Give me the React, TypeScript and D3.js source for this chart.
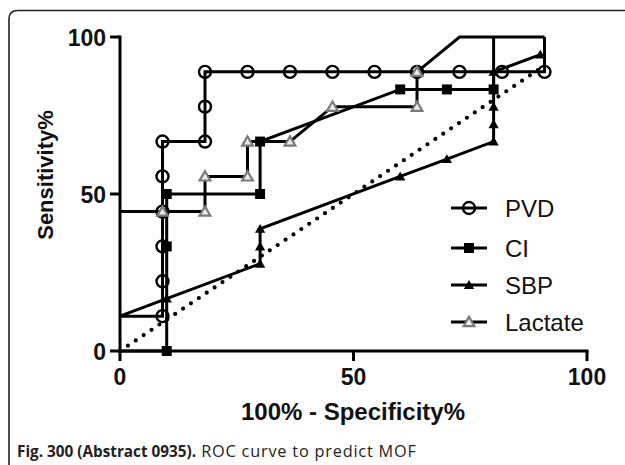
import React from "react";
import * as d3 from "d3";

const X_TICKS = [0, 50, 100];
const Y_TICKS = [0, 50, 100];

const PVD_X = [0, 9.1, 9.1, 9.1, 9.1, 9.1, 9.1, 18.2, 18.2, 18.2, 27.3, 36.4, 45.5, 54.5, 63.6, 72.7, 81.8, 90.9, 90.9];
const PVD_Y = [11.1, 11.1, 22.2, 33.3, 44.4, 55.6, 66.7, 66.7, 77.8, 88.9, 88.9, 88.9, 88.9, 88.9, 88.9, 88.9, 88.9, 88.9, 100];

const CI_X = [0, 10, 10, 10, 30, 30, 60, 70, 80, 80];
const CI_Y = [0, 0, 33.3, 50, 50, 66.7, 83.3, 83.3, 83.3, 100];

const SBP_X = [0, 10, 30, 30, 30, 60, 70, 80, 80, 80, 80, 90];
const SBP_Y = [11.1, 16.7, 27.8, 33.3, 38.9, 55.6, 61.1, 66.7, 72.2, 77.8, 88.9, 94.4];

const LAC_X = [0, 9.1, 18.2, 18.2, 27.3, 27.3, 36.4, 45.5, 63.6, 63.6, 72.7, 90.9];
const LAC_Y = [44.4, 44.4, 44.4, 55.6, 55.6, 66.7, 66.7, 77.8, 77.8, 88.9, 100, 100];

const REF_X = [0, 90];
const REF_Y = [0, 90];

const SERIES_NAMES = ["PVD", "CI", "SBP", "Lactate"];

const X_TITLE = "100% - Specificity%";
const Y_TITLE = "Sensitivity%";
const CAPTION_BOLD = "Fig. 300 (Abstract 0935).";
const CAPTION_REST = " ROC curve to predict MOF";

const W = 625;
const H = 465;
const FONT = "Arial, 'Liberation Sans', Helvetica, sans-serif";

type Marker = "circle" | "square" | "triangle" | "triangleOpen";

export default function App() {
  const x = d3.scaleLinear().domain([0, 100]).range([120, 587]);
  const y = d3.scaleLinear().domain([0, 100]).range([351, 37]);

  const series = [
    { name: SERIES_NAMES[0], xs: PVD_X, ys: PVD_Y, marker: "circle" as Marker },
    { name: SERIES_NAMES[1], xs: CI_X, ys: CI_Y, marker: "square" as Marker },
    { name: SERIES_NAMES[2], xs: SBP_X, ys: SBP_Y, marker: "triangle" as Marker },
    { name: SERIES_NAMES[3], xs: LAC_X, ys: LAC_Y, marker: "triangleOpen" as Marker },
  ];

  const line = d3
    .line<[number, number]>()
    .x((d) => x(d[0]))
    .y((d) => y(d[1]));

  const sym = (m: Marker) => {
    if (m === "square") return d3.symbol().type(d3.symbolSquare).size(100)()!;
    if (m === "triangle") return d3.symbol().type(d3.symbolTriangle).size(46)()!;
    return d3.symbol().type(d3.symbolTriangle).size(50)()!;
  };

  const drawMarker = (m: Marker, cx: number, cy: number, key: string) => {
    if (m === "circle")
      return <circle key={key} cx={cx} cy={cy} r={6} fill="none" stroke="#000" strokeWidth={2.4} />;
    const p = sym(m);
    if (m === "triangleOpen")
      return (
        <path key={key} d={p} transform={`translate(${cx},${cy + 1})`} fill="#ececec" stroke="#7a7a7a" strokeWidth={2.2} />
      );
    return <path key={key} d={p} transform={`translate(${cx},${cy + (m === "triangle" ? 1 : 0)})`} fill="#000" />;
  };

  const refPts: [number, number][] = REF_X.map((v, i) => [v, REF_Y[i]]);

  const legendRows = [208, 248, 285, 322];

  return (
    <svg
      width={W}
      height={H}
      viewBox={`0 0 ${W} ${H}`}
      style={{ position: "absolute", left: 0, top: 0, background: "#fff" }}
    >
      <rect x={0} y={0} width={W} height={H} fill="#fff" />
      {/* frame */}
      <path d={`M9,${H} L9,19 Q9,10.5 18,10.5 L${W},10.5`} fill="none" stroke="#222" strokeWidth={1.6} />

      {/* reference diagonal */}
      <path
        d={line(refPts)!}
        fill="none"
        stroke="#000"
        strokeWidth={4.2}
        strokeLinecap="round"
        strokeDasharray="0 9.5"
      />

      {/* axes */}
      <g stroke="#000" strokeWidth={3} fill="none">
        <line x1={x(0)} y1={y(0)} x2={x(100)} y2={y(0)} strokeLinecap="square" />
        <line x1={x(0)} y1={y(0)} x2={x(0)} y2={y(100)} strokeLinecap="square" />
        {X_TICKS.map((t) => (
          <line key={"xt" + t} x1={x(t)} x2={x(t)} y1={y(0)} y2={y(0) + 10} />
        ))}
        {Y_TICKS.map((t) => (
          <line key={"yt" + t} x1={x(0) - 10} x2={x(0)} y1={y(t)} y2={y(t)} />
        ))}
      </g>

      {/* tick labels */}
      <g fontFamily={FONT} fontWeight="bold" fontSize={23} fill="#111">
        {X_TICKS.map((t) => (
          <text key={"xl" + t} x={x(t)} y={385} textAnchor="middle">
            {t}
          </text>
        ))}
        {Y_TICKS.map((t) => (
          <text key={"yl" + t} x={106} y={y(t) + 8.5} textAnchor="end">
            {t}
          </text>
        ))}
      </g>

      {/* axis titles */}
      <text
        x={353}
        y={420}
        textAnchor="middle"
        fontFamily={FONT}
        fontWeight="bold"
        fontSize={24}
        fill="#111"
      >
        {X_TITLE}
      </text>
      <text
        transform={`translate(53,175) rotate(-90)`}
        textAnchor="middle"
        fontFamily={FONT}
        fontWeight="bold"
        fontSize={22}
        fill="#111"
      >
        {Y_TITLE}
      </text>

      {/* series lines */}
      {series.map((s) => {
        const pts: [number, number][] = s.xs.map((v, i) => [v, s.ys[i]]);
        return (
          <path
            key={"l" + s.name}
            d={line(pts)!}
            fill="none"
            stroke="#000"
            strokeWidth={3}
            strokeLinejoin="miter"
          />
        );
      })}

      {/* markers */}
      {series.map((s) =>
        s.xs.map((v, i) =>
          i > 0 && s.ys[i] < 100 ? drawMarker(s.marker, x(v), y(s.ys[i]), s.name + i) : null
        )
      )}

      {/* legend */}
      {series.map((s, i) => (
        <g key={"lg" + s.name}>
          <line x1={451} x2={487} y1={legendRows[i]} y2={legendRows[i]} stroke="#000" strokeWidth={3} />
          {drawMarker(s.marker, 469, legendRows[i], "lm" + i)}
          <text x={505} y={legendRows[i] + 8.6} fontFamily={FONT} fontSize={24} fill="#111">
            {s.name}
          </text>
        </g>
      ))}

      {/* caption */}
      <text x={17} y={457} fontFamily="'Open Sans', 'Noto Sans', sans-serif" fill="#222">
        <tspan fontWeight="bold" fontSize={15.3}>{CAPTION_BOLD}</tspan>
        <tspan fontSize={16.3} letterSpacing={0.8}>{CAPTION_REST}</tspan>
      </text>
    </svg>
  );
}
